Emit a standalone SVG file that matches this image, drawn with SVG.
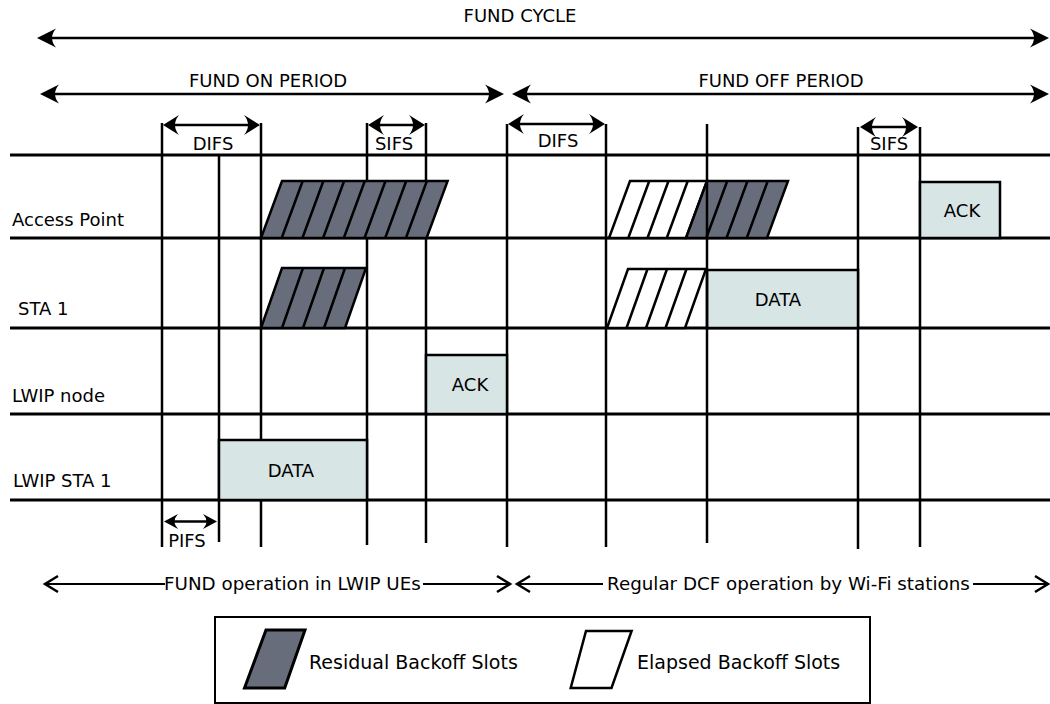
<svg xmlns="http://www.w3.org/2000/svg" width="1050" height="704" viewBox="0 0 1050 704">
<style>
  text { font-family: "DejaVu Sans", "Liberation Sans", sans-serif; font-size: 18px; fill: #000; }
  .c { text-anchor: middle; }
  .lg { font-size: 19px; }
  .bt { font-size: 18.3px; }
  .grid { stroke: #000; stroke-width: 3; fill: none; }
  .vl { stroke: #000; stroke-width: 2.5; fill: none; }
  .arr { stroke: #000; stroke-width: 2.5; fill: none; }
  .thin { stroke: #000; stroke-width: 2.2; fill: none; }
  .box { fill: #d7e5e5; stroke: #000; stroke-width: 2.5; }
  .res { fill: #686d7c; stroke: #000; stroke-width: 2.5; stroke-linejoin: miter; }
  .ela { fill: #fff; stroke: #000; stroke-width: 2.5; }
  .slot { stroke: #000; stroke-width: 2.5; fill: none; }
  .legend { fill: #fff; stroke: #000; stroke-width: 2; }
</style>
<defs>
  <marker id="arrowL" markerUnits="userSpaceOnUse" viewBox="-5 -11 22 22" markerWidth="22" markerHeight="22" refX="0" refY="0" orient="auto-start-reverse">
    <path d="M15,0 L-4,-9.5 Q4,0 -4,9.5 Z" fill="#000"/>
  </marker>
  <marker id="arrowS" markerUnits="userSpaceOnUse" viewBox="-5 -11 19 22" markerWidth="19" markerHeight="22" refX="0" refY="0" orient="auto-start-reverse">
    <path d="M12,0 L-4,-10 Q4,0 -4,10 Z" fill="#000"/>
  </marker>
  <marker id="arrowP" markerUnits="userSpaceOnUse" viewBox="-5 -9 16 18" markerWidth="16" markerHeight="18" refX="0" refY="0" orient="auto-start-reverse">
    <path d="M10,0 L-4,-7.5 Q3,0 -4,7.5 Z" fill="#000"/>
  </marker>
  <marker id="chev" markerUnits="userSpaceOnUse" viewBox="-16 -11 19 22" markerWidth="19" markerHeight="22" refX="0" refY="0" orient="auto-start-reverse">
    <path d="M-13,-8 L0,0 L-13,8" fill="none" stroke="#000" stroke-width="2.5"/>
  </marker>
</defs>

<!-- time grid -->
<g id="grid">
  <line class="grid" x1="10" y1="155" x2="1050" y2="155"/>
  <line class="grid" x1="10" y1="238" x2="1050" y2="238"/>
  <line class="grid" x1="10" y1="328" x2="1050" y2="328"/>
  <line class="grid" x1="10" y1="414" x2="1050" y2="414"/>
  <line class="grid" x1="10" y1="500" x2="1050" y2="500"/>
  <line class="vl" x1="162" y1="123" x2="162" y2="547"/>
  <line class="vl" x1="219" y1="155" x2="219" y2="542"/>
  <line class="vl" x1="261" y1="123" x2="261" y2="547"/>
  <line class="vl" x1="367" y1="123" x2="367" y2="545"/>
  <line class="vl" x1="426" y1="123" x2="426" y2="543"/>
  <line class="vl" x1="507" y1="124" x2="507" y2="547"/>
  <line class="vl" x1="606" y1="124" x2="606" y2="547"/>
  <line class="vl" x1="858" y1="127" x2="858" y2="549"/>
  <line class="vl" x1="920" y1="127" x2="920" y2="547"/>
</g>

<!-- row labels -->
<g id="labels">
  <text x="12" y="226">Access Point</text>
  <text x="18" y="315">STA 1</text>
  <text x="12" y="402">LWIP node</text>
  <text x="13" y="487">LWIP STA 1</text>
</g>

<!-- backoff slots -->
<g id="ap-backoff-left">
  <polygon class="res" points="261,238 426.6,238 447.6,181 282,181"/>
  <path class="slot" d="M281.7,238 L302.7,181 M302.4,238 L323.4,181 M323.1,238 L344.1,181 M343.8,238 L364.8,181 M364.5,238 L385.5,181 M385.2,238 L406.2,181 M405.9,238 L426.9,181"/>
</g>
<g id="sta1-backoff-left">
  <polygon class="res" points="261,328 345,328 366,268 282,268"/>
  <path class="slot" d="M282,328 L303,268 M303,328 L324,268 M324,328 L345,268"/>
</g>
<g id="ap-backoff-right">
  <polygon class="ela" points="609,238 686,238 707,181 630,181"/>
  <polygon class="res" points="686,238 767,238 788,181 707,181"/>
  <path class="slot" d="M628.25,238 L649.25,181 M647.5,238 L668.5,181 M666.75,238 L687.75,181 M706.25,238 L727.25,181 M726.5,238 L747.5,181 M746.75,238 L767.75,181"/>
</g>
<g id="sta1-backoff-right">
  <polygon class="ela" points="607,328 685,328 706,269 628,269"/>
  <path class="slot" d="M626.5,328 L647.5,269 M646,328 L667,269 M665.5,328 L686.5,269"/>
</g>

<!-- frames -->
<g id="lwip-sta1-data">
  <rect class="box" x="219" y="440" width="148" height="60"/>
  <text class="c" x="291" y="477">DATA</text>
</g>
<g id="lwip-node-ack">
  <rect class="box" x="426" y="355" width="81" height="59"/>
  <text class="c" x="470" y="391">ACK</text>
</g>
<g id="sta1-data">
  <rect class="box" x="707" y="270" width="151" height="58"/>
  <text class="c" x="778" y="306">DATA</text>
</g>
<g id="ap-ack">
  <rect class="box" x="920" y="182" width="80" height="56"/>
  <text class="c" x="962" y="217">ACK</text>
</g>

<g id="grid-top">
  <line class="vl" x1="707" y1="124" x2="707" y2="543"/>
</g>

<!-- period arrows and interval brackets -->
<g id="connectors">
  <line class="arr" x1="52" y1="38" x2="1034" y2="38" marker-start="url(#arrowL)" marker-end="url(#arrowL)"/>
  <line class="arr" x1="55" y1="94" x2="489" y2="94" marker-start="url(#arrowL)" marker-end="url(#arrowL)"/>
  <line class="arr" x1="527" y1="94" x2="1034" y2="94" marker-start="url(#arrowL)" marker-end="url(#arrowL)"/>
  <line class="arr" x1="175" y1="125" x2="248" y2="125" marker-start="url(#arrowS)" marker-end="url(#arrowS)"/>
  <line class="arr" x1="380" y1="125" x2="413" y2="125" marker-start="url(#arrowS)" marker-end="url(#arrowS)"/>
  <line class="arr" x1="520" y1="124" x2="593" y2="124" marker-start="url(#arrowS)" marker-end="url(#arrowS)"/>
  <line class="arr" x1="872" y1="127" x2="906" y2="127" marker-start="url(#arrowS)" marker-end="url(#arrowS)"/>
  <line class="arr" x1="174" y1="521.5" x2="207" y2="521.5" marker-start="url(#arrowP)" marker-end="url(#arrowP)"/>
  <line class="thin" x1="45" y1="584" x2="165" y2="584" marker-start="url(#chev)"/>
  <line class="thin" x1="423" y1="584" x2="510" y2="584" marker-end="url(#chev)"/>
  <line class="thin" x1="517" y1="584" x2="603" y2="584" marker-start="url(#chev)"/>
  <line class="thin" x1="973" y1="584" x2="1048" y2="584" marker-end="url(#chev)"/>
</g>

<g id="period-labels">
  <text class="c" x="520" y="22">FUND CYCLE</text>
  <text class="c" x="268" y="87">FUND ON PERIOD</text>
  <text class="c" x="781" y="87">FUND OFF PERIOD</text>
  <text class="c" x="213" y="150">DIFS</text>
  <text class="c" x="394" y="150">SIFS</text>
  <text class="c" x="558" y="147">DIFS</text>
  <text class="c" x="889" y="150">SIFS</text>
  <text class="c" x="187" y="547">PIFS</text>
  <text class="bt" x="164" y="590">FUND operation in LWIP UEs</text>
  <text class="bt" x="607" y="590">Regular DCF operation by Wi-Fi stations</text>
</g>

<!-- legend -->
<g id="legend">
  <rect class="legend" x="215" y="617" width="655" height="86"/>
  <polygon class="res" style="stroke-width:3" points="244.5,688 284.7,688 305,630 266,630"/>
  <text class="lg" x="309" y="669">Residual Backoff Slots</text>
  <polygon class="ela" points="570.7,688 611.5,688 631.6,631 586,631"/>
  <text class="lg" x="637" y="669">Elapsed Backoff Slots</text>
</g>
</svg>
